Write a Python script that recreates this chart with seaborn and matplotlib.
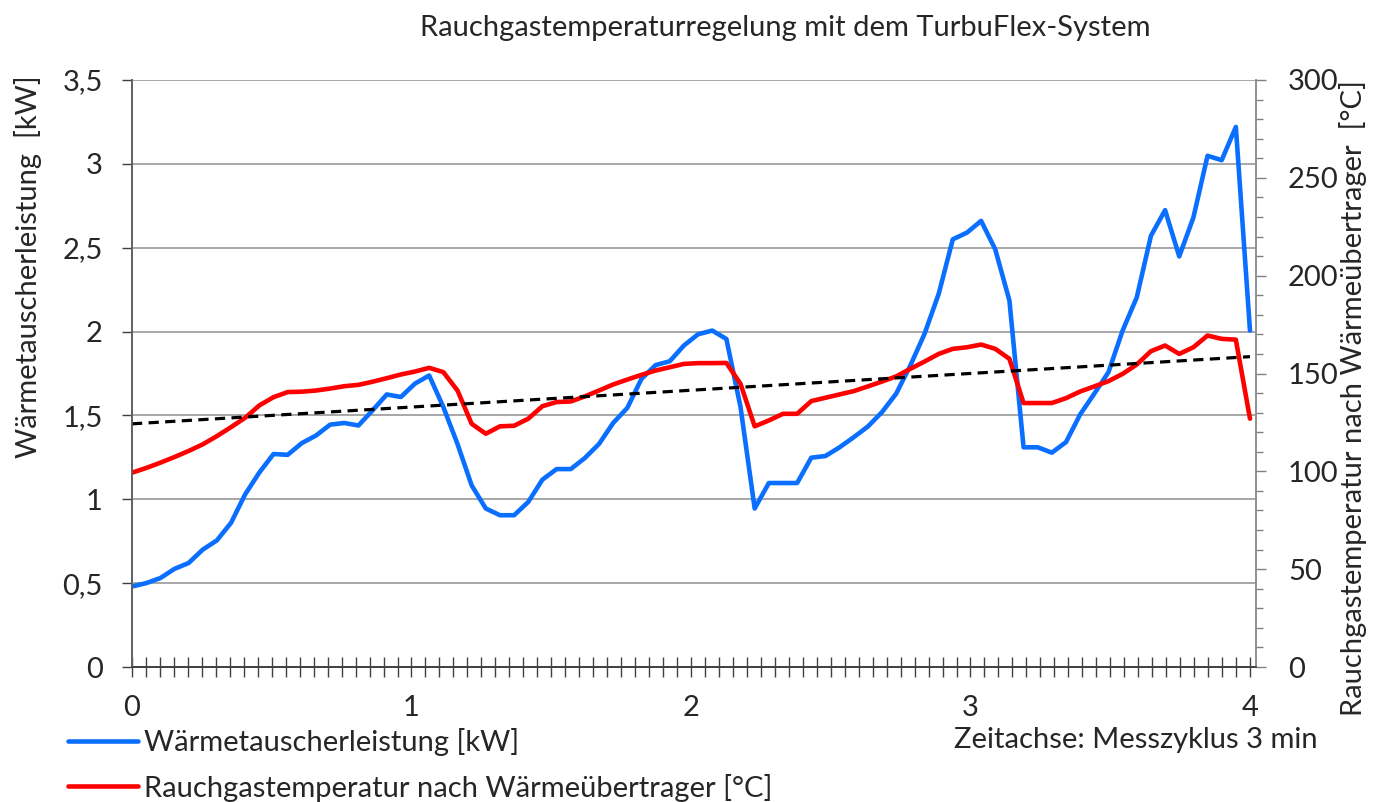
import numpy as np
import matplotlib
matplotlib.use("Agg")
import matplotlib.pyplot as plt
from matplotlib.ticker import MultipleLocator, FuncFormatter
import seaborn as sns

leistung_kw = [0.48, 0.50, 0.53, 0.585, 0.62, 0.70, 0.755, 0.86, 1.03, 1.16,
               1.27, 1.265, 1.335, 1.38, 1.445, 1.455, 1.44, 1.53, 1.625, 1.61,
               1.69, 1.738, 1.55, 1.33, 1.083, 0.945, 0.905, 0.905, 0.984, 1.117,
               1.18, 1.18, 1.246, 1.33, 1.455, 1.545, 1.718, 1.80, 1.823, 1.917,
               1.984, 2.006, 1.956, 1.55, 0.945, 1.097, 1.097, 1.097, 1.248, 1.258,
               1.31, 1.37, 1.434, 1.52, 1.63, 1.798, 1.986, 2.224, 2.55, 2.59,
               2.66, 2.49, 2.185, 1.31, 1.31, 1.278, 1.341, 1.506, 1.63, 1.758,
               2.006, 2.204, 2.571, 2.724, 2.448, 2.68, 3.048, 3.022, 3.22, 2.006]

rauchgas_c = [99.3, 101.7, 104.4, 107.3, 110.4, 113.8, 118.0, 122.6, 127.4, 133.7,
              137.9, 140.5, 140.7, 141.3, 142.3, 143.5, 144.2, 145.8, 147.6, 149.5,
              151.0, 152.9, 150.7, 141.3, 124.3, 119.2, 123.0, 123.3, 126.9, 133.3,
              135.4, 135.7, 138.3, 141.3, 144.4, 146.9, 149.3, 151.5, 153.2, 154.9,
              155.3, 155.3, 155.4, 144.7, 123.0, 126.0, 129.4, 129.4, 135.9, 137.6,
              139.3, 141.0, 143.4, 145.9, 148.5, 152.4, 156.1, 160.0, 162.6, 163.4,
              164.8, 162.6, 157.5, 134.9, 134.9, 134.9, 137.4, 140.8, 143.4, 146.1,
              149.8, 154.6, 161.4, 164.3, 160.0, 163.4, 169.4, 167.7, 167.3, 126.9]

x_ticks = [0, 1, 2, 3, 4]
left_ticks = [0, 0.5, 1, 1.5, 2, 2.5, 3, 3.5]
right_ticks = [0, 50, 100, 150, 200, 250, 300]

titel = "Rauchgastemperaturregelung mit dem TurbuFlex-System"
label_links = "Wärmetauscherleistung  [kW]"
label_rechts = "Rauchgastemperatur nach Wärmeübertrager  [°C]"
label_blau = "Wärmetauscherleistung [kW]"
label_rot = "Rauchgastemperatur nach Wärmeübertrager [°C]"
zeitachse = "Zeitachse: Messzyklus 3 min"

sns.set_style("white")
plt.rcParams["font.family"] = ["Lato", "DejaVu Sans"]
fs = 21

zeit = np.linspace(0, 4, len(leistung_kw))
blau = "#0A6EFF"
rot = "#FF0000"

fig = plt.figure(figsize=(13.79, 8.02), dpi=100)
ax = fig.add_axes([132 / 1379, 135 / 802, 1124 / 1379, 587 / 802])
ax2 = ax.twinx()

sns.lineplot(x=zeit, y=leistung_kw, ax=ax, color=blau, lw=3.3, label=label_blau, legend=False)
sns.lineplot(x=zeit, y=rauchgas_c, ax=ax2, color=rot, lw=3.3, label=label_rot, legend=False)

# linearer Trend der Rauchgastemperatur
k, d = np.polyfit(zeit, rauchgas_c, 1)
ax2.plot(zeit, k * zeit + d, color="black", lw=2.3, ls=(0, (3.2, 2.0)))

ax.set_xlim(0, 4.0215)
ax.set_ylim(0, 3.5)
ax2.set_ylim(0, 300)

ax.set_yticks(left_ticks)
ax.yaxis.set_major_formatter(FuncFormatter(lambda v, p: f"{v:g}".replace(".", ",")))
ax.set_xticks(x_ticks)
ax.xaxis.set_minor_locator(MultipleLocator(0.05))
ax.tick_params(axis="x", which="both", bottom=True, direction="inout", length=14, width=1.0,
               color="#404040", labelsize=fs, pad=13)
ax.tick_params(axis="y", which="major", left=True, direction="out", length=7, width=1.0,
               color="#404040", labelsize=fs, pad=14)
ax.grid(axis="y", color="#A0A0A0", lw=1.3)
ax.set_axisbelow(True)

ax2.set_yticks(right_ticks)
ax2.yaxis.set_minor_locator(MultipleLocator(10))
ax2.tick_params(axis="y", which="major", right=True, direction="out", length=7, width=1.0,
                color="#808080", labelsize=fs, pad=16)
ax2.tick_params(axis="y", which="minor", right=True, direction="out", length=5, width=1.0,
                color="#808080")
ax2.grid(False)

for a in (ax, ax2):
    a.spines["top"].set_visible(False)
    a.spines["left"].set_color("#606060")
    a.spines["bottom"].set_color("#404040")
    a.spines["right"].set_color("#909090")
    for s in a.spines.values():
        s.set_linewidth(1.2)

fig.text(785 / 1379, 1 - 28 / 802, titel, ha="center", va="center", fontsize=fs)
fig.text(28 / 1379, 1 - 267 / 802, label_links, rotation=90, ha="center", va="center", fontsize=fs)
fig.text(1353 / 1379, 1 - 398 / 802, label_rechts, rotation=90, ha="center", va="center", fontsize=fs)
fig.text(1318 / 1379, 1 - 740 / 802, zeitachse, ha="right", va="center", fontsize=fs)

h1, l1 = ax.get_legend_handles_labels()
h2, l2 = ax2.get_legend_handles_labels()
fig.legend(h1 + h2, l1 + l2, loc="upper left", bbox_to_anchor=(68 / 1379, 1 - 728 / 802),
           frameon=False, fontsize=fs, handlelength=2.4, handletextpad=0.2,
           labelspacing=0.6, borderaxespad=0, borderpad=0)

fig.savefig("out.png", dpi=100)
